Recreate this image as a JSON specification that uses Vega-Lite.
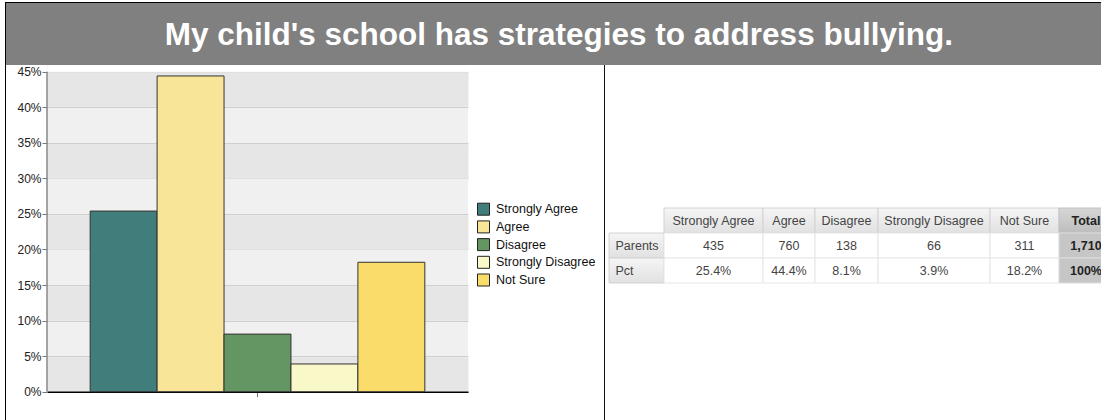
{
  "$schema": "https://vega.github.io/schema/vega-lite/v6.json",
  "padding": {"left": 5, "top": 2, "right": 0, "bottom": 0},
  "autosize": {"type": "pad"},
  "config": {"view": {"stroke": null}, "concat": {"spacing": 0}, "font": "Liberation Sans"},
  "datasets": {
    "responses": [
      {"response": "Strongly Agree", "count": 435, "pct": 0.254},
      {"response": "Agree", "count": 760, "pct": 0.444},
      {"response": "Disagree", "count": 138, "pct": 0.081},
      {"response": "Strongly Disagree", "count": 66, "pct": 0.039},
      {"response": "Not Sure", "count": 311, "pct": 0.182}
    ],
    "cells": [
      {"col": "label", "row": "Parents", "text": "Parents"},
      {"col": "label", "row": "Pct", "text": "Pct"},
      {"col": "Strongly Agree", "row": "header", "text": "Strongly Agree"},
      {"col": "Strongly Agree", "row": "Parents", "text": "435"},
      {"col": "Strongly Agree", "row": "Pct", "text": "25.4%"},
      {"col": "Agree", "row": "header", "text": "Agree"},
      {"col": "Agree", "row": "Parents", "text": "760"},
      {"col": "Agree", "row": "Pct", "text": "44.4%"},
      {"col": "Disagree", "row": "header", "text": "Disagree"},
      {"col": "Disagree", "row": "Parents", "text": "138"},
      {"col": "Disagree", "row": "Pct", "text": "8.1%"},
      {"col": "Strongly Disagree", "row": "header", "text": "Strongly Disagree"},
      {"col": "Strongly Disagree", "row": "Parents", "text": "66"},
      {"col": "Strongly Disagree", "row": "Pct", "text": "3.9%"},
      {"col": "Not Sure", "row": "header", "text": "Not Sure"},
      {"col": "Not Sure", "row": "Parents", "text": "311"},
      {"col": "Not Sure", "row": "Pct", "text": "18.2%"},
      {"col": "Total", "row": "header", "text": "Total"},
      {"col": "Total", "row": "Parents", "text": "1,710"},
      {"col": "Total", "row": "Pct", "text": "100%"}
    ],
    "title": [{"text": "My child's school has strategies to address bullying."}]
  },
  "columns": 1,
  "align": "none",
  "spacing": 0,
  "concat": [
    {
      "align": "none",
      "spacing": 0,
      "concat": [
        {
          "width": 1, "height": 63,
          "view": {"fill": "#000000", "stroke": null},
          "data": {"name": "title"},
          "mark": {"type": "rect", "fill": "#000000"},
          "encoding": {}
        },
        {
          "columns": 1,
          "align": "none",
          "spacing": 0,
          "concat": [
            {
              "width": 1095, "height": 1,
              "view": {"fill": "#000000", "stroke": null},
              "data": {"name": "title"},
              "mark": {"type": "rect", "fill": "#000000"},
              "encoding": {}
            },
            {
              "width": 1095, "height": 62,
              "view": {"fill": "#808080", "stroke": null},
              "data": {"name": "title"},
              "mark": {"type": "text", "font": "Liberation Sans", "fontSize": 31.5, "fontWeight": "bold", "fill": "#ffffff", "baseline": "alphabetic", "dy": 11, "dx": 5.3},
              "encoding": {"text": {"field": "text"}}
            }
          ]
        }
      ]
    },
    {
      "align": "none",
      "spacing": 0,
      "resolve": {"legend": {"fill": "independent"}, "scale": {"fill": "independent"}},
      "concat": [
        {
          "width": 1, "height": 355,
          "view": {"fill": "#000000", "stroke": null},
          "data": {"name": "title"},
          "mark": {"type": "rect", "fill": "#000000"},
          "encoding": {}
        },
        {
          "width": 421, "height": 326.7,
          "view": {"fill": "#f0f0f0", "stroke": null},
          "data": {"name": "responses"},
          "layer": [
            {
              "mark": {"type": "bar", "stroke": "#333333", "strokeWidth": 1},
              "encoding": {
                "x": {"field": "response", "type": "nominal", "sort": ["Strongly Agree", "Agree", "Disagree", "Strongly Disagree", "Not Sure"],
                  "scale": {"paddingInner": 0, "paddingOuter": 0.645},
                  "axis": {"values": ["Disagree"], "labels": false, "title": null, "grid": false, "domainColor": "#000000", "domainWidth": 1.5, "tickColor": "#777777", "tickSize": 5, "tickWidth": 1}},
                "y": {"field": "pct", "type": "quantitative", "scale": {"domain": [0, 0.45942], "nice": false},
                  "axis": {"values": [0, 0.05, 0.1, 0.15, 0.2, 0.25, 0.3, 0.35, 0.4, 0.45], "format": ".0%", "title": null,
                    "labelFont": "Liberation Sans", "labelFontSize": 12, "labelColor": "#222222", "labelPadding": 1,
                    "tickColor": "#777777", "tickSize": 5, "domain": false,
                    "grid": true, "gridColor": "#cfcfcf", "gridWidth": 1, "minExtent": 41, "maxExtent": 41}},
                "fill": {"field": "response", "type": "nominal", "sort": ["Strongly Agree", "Agree", "Disagree", "Strongly Disagree", "Not Sure"],
                  "scale": {"domain": ["Strongly Agree", "Agree", "Disagree", "Strongly Disagree", "Not Sure"], "range": ["#417E7B", "#F9E597", "#639663", "#F9F8C9", "#FADC6B"]},
                  "legend": {"orient": "none", "legendX": 422, "legendY": 129.7, "title": null, "symbolType": "square", "symbolSize": 144,
                    "symbolStrokeColor": "#222222", "symbolStrokeWidth": 1, "labelFont": "Liberation Sans", "labelFontSize": 12.5, "labelColor": "#111111",
                    "rowPadding": 0.7, "padding": 8, "labelOffset": 6}}
              }
            },
            {
              "mark": {"type": "bar", "opacity": 0},
              "encoding": {
                "x": {"field": "response", "type": "nominal", "sort": ["Strongly Agree", "Agree", "Disagree", "Strongly Disagree", "Not Sure"], "axis": null},
                "y": {"field": "pct", "type": "quantitative",
                  "axis": {"orient": "right", "values": [0.025, 0.125, 0.225, 0.325, 0.425, 0.4551], "grid": true,
                    "gridColor": {"condition": {"test": "datum.value > 0.45", "value": "#ffffff"}, "value": "#e6e6e6"},
                    "gridWidth": {"condition": {"test": "datum.value > 0.45", "value": 6.3}, "value": 34.5},
                    "labels": false, "ticks": false, "domain": false, "title": null, "minExtent": 0, "maxExtent": 0}}
              }
            },
            {
              "data": {"name": "title"},
              "mark": {"type": "rule", "color": "#888888", "strokeWidth": 1.5},
              "encoding": {
                "x": {"datum": 0, "type": "quantitative", "scale": {"domain": [0, 1]}, "axis": null},
                "y": {"datum": 0, "type": "quantitative", "axis": null},
                "y2": {"datum": 0.45}
              }
            }
          ],
          "resolve": {"axis": {"y": "independent"}, "scale": {"x": "independent"}}
        },
        {
          "width": 1, "height": 355,
          "view": {"fill": "#111111", "stroke": null},
          "data": {"name": "title"},
          "mark": {"type": "rect", "fill": "#111111"},
          "encoding": {}
        },
        {
          "width": 3, "height": 355,
          "data": {"name": "title"},
          "mark": {"type": "rect", "opacity": 0},
          "encoding": {}
        },
        {
          "columns": 1,
          "align": "none",
          "spacing": 0,
          "concat": [
            {
              "width": 493, "height": 141.5,
              "data": {"name": "title"},
              "mark": {"type": "rect", "opacity": 0},
              "encoding": {}
            },
            {
              "align": "none",
              "spacing": 0,
              "bounds": "flush",
              "concat": [
                {
                  "width": 55, "height": 75,
                  "data": {"name": "cells"},
                  "transform": [{"filter": "datum.col == 'label'"}],
                  "encoding": {"y": {"field": "row", "type": "nominal", "scale": {"domain": ["header", "Parents", "Pct"], "paddingInner": 0, "paddingOuter": 0}, "axis": null}},
                  "layer": [
                    {"mark": {"type": "rect", "fill": {"gradient": "linear", "x1": 0, "y1": 0, "x2": 0, "y2": 1, "stops": [{"offset": 0, "color": "#f5f5f5"}, {"offset": 1, "color": "#e1e1e1"}]}, "stroke": "#d2d2d2", "strokeWidth": 1}},
                    {"mark": {"type": "text", "font": "Liberation Sans", "fontSize": 12.5, "fill": "#444444", "align": "left", "dx": -21}, "encoding": {"text": {"field": "text"}}}
                  ]
                },
                {
                  "width": 99, "height": 75,
                  "data": {"name": "cells"},
                  "transform": [{"filter": "datum.col == 'Strongly Agree'"}],
                  "encoding": {"y": {"field": "row", "type": "nominal", "scale": {"domain": ["header", "Parents", "Pct"], "paddingInner": 0, "paddingOuter": 0}, "axis": null}},
                  "layer": [
                    {"transform": [{"filter": "datum.row == 'header'"}], "mark": {"type": "rect", "fill": {"gradient": "linear", "x1": 0, "y1": 0, "x2": 0, "y2": 1, "stops": [{"offset": 0, "color": "#f5f5f5"}, {"offset": 1, "color": "#e1e1e1"}]}, "stroke": "#d2d2d2", "strokeWidth": 1}},
                    {"transform": [{"filter": "datum.row != 'header'"}], "mark": {"type": "rect", "fill": "#ffffff", "stroke": "#e6e6e6", "strokeWidth": 1}},
                    {"mark": {"type": "text", "font": "Liberation Sans", "fontSize": 12.5, "fill": "#444444"}, "encoding": {"text": {"field": "text"}}}
                  ]
                },
                {
                  "width": 52, "height": 75,
                  "data": {"name": "cells"},
                  "transform": [{"filter": "datum.col == 'Agree'"}],
                  "encoding": {"y": {"field": "row", "type": "nominal", "scale": {"domain": ["header", "Parents", "Pct"], "paddingInner": 0, "paddingOuter": 0}, "axis": null}},
                  "layer": [
                    {"transform": [{"filter": "datum.row == 'header'"}], "mark": {"type": "rect", "fill": {"gradient": "linear", "x1": 0, "y1": 0, "x2": 0, "y2": 1, "stops": [{"offset": 0, "color": "#f5f5f5"}, {"offset": 1, "color": "#e1e1e1"}]}, "stroke": "#d2d2d2", "strokeWidth": 1}},
                    {"transform": [{"filter": "datum.row != 'header'"}], "mark": {"type": "rect", "fill": "#ffffff", "stroke": "#e6e6e6", "strokeWidth": 1}},
                    {"mark": {"type": "text", "font": "Liberation Sans", "fontSize": 12.5, "fill": "#444444"}, "encoding": {"text": {"field": "text"}}}
                  ]
                },
                {
                  "width": 63, "height": 75,
                  "data": {"name": "cells"},
                  "transform": [{"filter": "datum.col == 'Disagree'"}],
                  "encoding": {"y": {"field": "row", "type": "nominal", "scale": {"domain": ["header", "Parents", "Pct"], "paddingInner": 0, "paddingOuter": 0}, "axis": null}},
                  "layer": [
                    {"transform": [{"filter": "datum.row == 'header'"}], "mark": {"type": "rect", "fill": {"gradient": "linear", "x1": 0, "y1": 0, "x2": 0, "y2": 1, "stops": [{"offset": 0, "color": "#f5f5f5"}, {"offset": 1, "color": "#e1e1e1"}]}, "stroke": "#d2d2d2", "strokeWidth": 1}},
                    {"transform": [{"filter": "datum.row != 'header'"}], "mark": {"type": "rect", "fill": "#ffffff", "stroke": "#e6e6e6", "strokeWidth": 1}},
                    {"mark": {"type": "text", "font": "Liberation Sans", "fontSize": 12.5, "fill": "#444444"}, "encoding": {"text": {"field": "text"}}}
                  ]
                },
                {
                  "width": 112, "height": 75,
                  "data": {"name": "cells"},
                  "transform": [{"filter": "datum.col == 'Strongly Disagree'"}],
                  "encoding": {"y": {"field": "row", "type": "nominal", "scale": {"domain": ["header", "Parents", "Pct"], "paddingInner": 0, "paddingOuter": 0}, "axis": null}},
                  "layer": [
                    {"transform": [{"filter": "datum.row == 'header'"}], "mark": {"type": "rect", "fill": {"gradient": "linear", "x1": 0, "y1": 0, "x2": 0, "y2": 1, "stops": [{"offset": 0, "color": "#f5f5f5"}, {"offset": 1, "color": "#e1e1e1"}]}, "stroke": "#d2d2d2", "strokeWidth": 1}},
                    {"transform": [{"filter": "datum.row != 'header'"}], "mark": {"type": "rect", "fill": "#ffffff", "stroke": "#e6e6e6", "strokeWidth": 1}},
                    {"mark": {"type": "text", "font": "Liberation Sans", "fontSize": 12.5, "fill": "#444444"}, "encoding": {"text": {"field": "text"}}}
                  ]
                },
                {
                  "width": 69, "height": 75,
                  "data": {"name": "cells"},
                  "transform": [{"filter": "datum.col == 'Not Sure'"}],
                  "encoding": {"y": {"field": "row", "type": "nominal", "scale": {"domain": ["header", "Parents", "Pct"], "paddingInner": 0, "paddingOuter": 0}, "axis": null}},
                  "layer": [
                    {"transform": [{"filter": "datum.row == 'header'"}], "mark": {"type": "rect", "fill": {"gradient": "linear", "x1": 0, "y1": 0, "x2": 0, "y2": 1, "stops": [{"offset": 0, "color": "#f5f5f5"}, {"offset": 1, "color": "#e1e1e1"}]}, "stroke": "#d2d2d2", "strokeWidth": 1}},
                    {"transform": [{"filter": "datum.row != 'header'"}], "mark": {"type": "rect", "fill": "#ffffff", "stroke": "#e6e6e6", "strokeWidth": 1}},
                    {"mark": {"type": "text", "font": "Liberation Sans", "fontSize": 12.5, "fill": "#444444"}, "encoding": {"text": {"field": "text"}}}
                  ]
                },
                {
                  "width": 43, "height": 75,
                  "data": {"name": "cells"},
                  "transform": [{"filter": "datum.col == 'Total'"}],
                  "encoding": {"y": {"field": "row", "type": "nominal", "scale": {"domain": ["header", "Parents", "Pct"], "paddingInner": 0, "paddingOuter": 0}, "axis": null}},
                  "layer": [
                    {"transform": [{"filter": "datum.row == 'header'"}], "mark": {"type": "rect", "fill": {"gradient": "linear", "x1": 0, "y1": 0, "x2": 0, "y2": 1, "stops": [{"offset": 0, "color": "#d6d6d6"}, {"offset": 1, "color": "#bdbdbd"}]}, "stroke": "#c2c2c2", "strokeWidth": 1}},
                    {"transform": [{"filter": "datum.row != 'header'"}], "mark": {"type": "rect", "fill": "#c6c6c6", "stroke": "#dedede", "strokeWidth": 1}},
                    {"mark": {"type": "text", "font": "Liberation Sans", "fontSize": 12.5, "fontWeight": "bold", "fill": "#222222", "dx": 5.5}, "encoding": {"text": {"field": "text"}}}
                  ]
                }
              ]
            }
          ]
        }
      ]
    }
  ]
}
